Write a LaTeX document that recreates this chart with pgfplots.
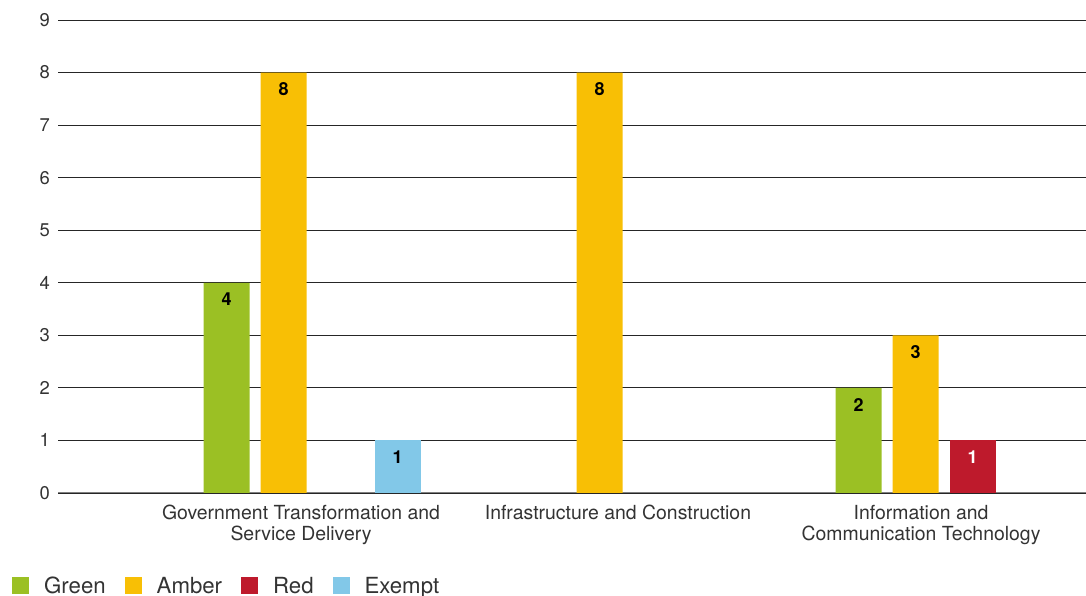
\documentclass[border=0pt]{standalone}
\usepackage{pgfplots}
\pgfplotsset{compat=1.18}
\usepackage{fontspec}
\setmainfont{TeX Gyre Heros}
\definecolor{cgreen}{HTML}{9BC024}
\definecolor{camber}{HTML}{F8BF05}
\definecolor{cred}{HTML}{BE1A2C}
\definecolor{cexempt}{HTML}{82C8E8}
\definecolor{ctext}{HTML}{333333}
\begin{document}
\begin{tikzpicture}
\begin{axis}[
  scale only axis,
  width=1028bp, height=473bp,
  xmin=-0.804, xmax=2.449,
  ymin=0, ymax=9,
  ytick={0,1,...,9},
  xtick={-0.035,0.968,1.927},
  xticklabels={{Government Transformation and\\Service Delivery},{Infrastructure and Construction},{Information and\\Communication Technology}},
  xticklabel style={align=center, font=\fontsize{19.5}{21}\selectfont, text=ctext, inner sep=0pt, yshift=-8bp},
  yticklabel style={font=\fontsize{18.5}{20}\selectfont, text=ctext, inner sep=0pt, xshift=-8bp},
  /pgf/number format/assume math mode=true,
  axis line style={draw=none},
  tick style={draw=none},
  ymajorgrids,
  major grid style={draw=black!85, line width=0.9bp},
  ybar,
  bar width=46bp,
  nodes near coords,
  every node near coord/.append style={anchor=north, yshift=-10bp, inner sep=0pt, font=\fontsize{18}{20}\selectfont\bfseries, text=black},
  legend style={at={(rel axis cs:0,0)}, anchor=north west, xshift=-46bp, yshift=-81.5bp, draw=none, fill=none, inner sep=0pt,
    font=\fontsize{22.3}{24}\selectfont, text=ctext, legend columns=-1,
    /tikz/every even column/.append style={column sep=17bp}},
  legend cell align=left,
  legend image code/.code={\fill[#1, draw=none] (0bp,-8.5bp) rectangle (17bp,8.5bp);},
  clip=false,
]
\draw[draw=gray, line width=1bp] (rel axis cs:0,0) -- (rel axis cs:1,0);
\coordinate (sw) at (rel axis cs:0,0);
\coordinate (ne) at (rel axis cs:1,1);
\addplot[fill=cgreen, draw=none, bar shift=-85.5bp] coordinates {(0,4) (2,2)};
\addlegendentry{\hspace*{13bp}Green}
\addplot[fill=camber, draw=none, bar shift=-28.5bp] coordinates {(0,8) (1,8) (2,3)};
\addlegendentry{\hspace*{13bp}Amber}
\addplot[fill=cred, draw=none, bar shift=28.5bp, every node near coord/.append style={text=white}] coordinates {(2,1)};
\addlegendentry{\hspace*{13bp}Red}
\addplot[fill=cexempt, draw=none, bar shift=85.5bp] coordinates {(0,1)};
\addlegendentry{\hspace*{13bp}Exempt}
\end{axis}
\pgfresetboundingbox
\path ([xshift=-58bp,yshift=-103bp]sw) rectangle ([yshift=20bp]ne);
\end{tikzpicture}
\end{document}
